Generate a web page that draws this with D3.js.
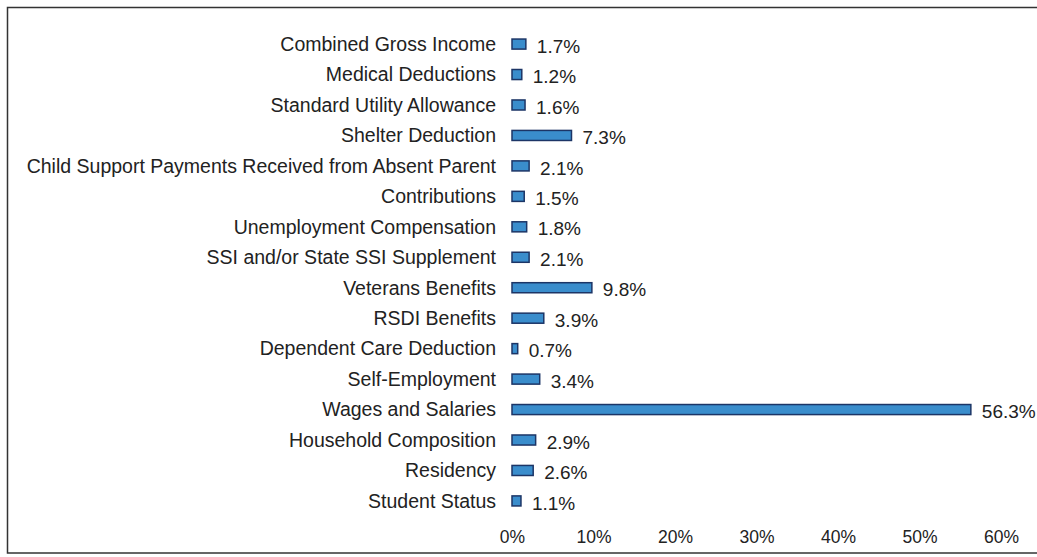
<!DOCTYPE html>
<html>
<head>
<meta charset="utf-8">
<script src="https://cdn.jsdelivr.net/npm/d3@7"></script>
<style>
  body { margin: 0; background: #fff; }
  text { font-family: "Liberation Sans", Arial, sans-serif; fill: #222; }
</style>
</head>
<body>
<div id="chart"></div>
<script>
// data, top to bottom as in the picture
var categories = [
  "Combined Gross Income", "Medical Deductions", "Standard Utility Allowance",
  "Shelter Deduction", "Child Support Payments Received from Absent Parent",
  "Contributions", "Unemployment Compensation", "SSI and/or State SSI Supplement",
  "Veterans Benefits", "RSDI Benefits", "Dependent Care Deduction",
  "Self-Employment", "Wages and Salaries", "Household Composition",
  "Residency", "Student Status"
];
var values = [1.7, 1.2, 1.6, 7.3, 2.1, 1.5, 1.8, 2.1, 9.8, 3.9, 0.7, 3.4, 56.3, 2.9, 2.6, 1.1];
var xTicks = [0, 10, 20, 30, 40, 50, 60];

var width = 1037, height = 557;
var svg = d3.select('#chart').append('svg').attr('width', width).attr('height', height);

// frame
svg.append('rect')
  .attr('x', 7.5).attr('y', 7.5)
  .attr('width', width + 10).attr('height', height - 4 - 7.5)
  .attr('fill', 'none').attr('stroke', '#333').attr('stroke-width', 1.5);

var x = d3.scaleLinear().domain([0, 60]).range([512, 1001]);
var y = d3.scaleBand().domain(categories).range([29, 516]).paddingInner(0.67).paddingOuter(0.33);

// category labels
svg.selectAll('text.cat')
  .data(categories)
  .enter().append('text')
  .attr('class', 'cat')
  .attr('x', 496)
  .attr('y', function(d) { return y(d) + y.bandwidth() / 2; })
  .attr('dy', '0.35em')
  .attr('text-anchor', 'end')
  .style('font-size', '19.5px')
  .text(function(d) { return d; });

// bars
svg.selectAll('rect.bar')
  .data(values)
  .enter().append('rect')
  .attr('class', 'bar')
  .attr('x', x(0))
  .attr('y', function(d, i) { return y(categories[i]); })
  .attr('width', function(d) { return x(d) - x(0); })
  .attr('height', y.bandwidth())
  .attr('fill', '#3a8dcc')
  .attr('stroke', '#1c3566')
  .attr('stroke-width', 1.5);

// value labels
svg.selectAll('text.val')
  .data(values)
  .enter().append('text')
  .attr('class', 'val')
  .attr('x', function(d) { return x(d) + 11; })
  .attr('y', function(d, i) { return y(categories[i]) + y.bandwidth() / 2 + 2; })
  .attr('dy', '0.35em')
  .style('font-size', '19px')
  .text(function(d) { return d.toFixed(1) + '%'; });

// x axis (labels only)
var axis = svg.append('g')
  .attr('transform', 'translate(0,531)')
  .call(d3.axisBottom(x).tickValues(xTicks).tickSize(0).tickPadding(0)
    .tickFormat(function(d) { return d + '%'; }));
axis.select('.domain').remove();
axis.selectAll('text')
  .style('font-size', '17.5px')
  .style('font-family', '"Liberation Sans", Arial, sans-serif')
  .attr('fill', '#222');
</script>
</body>
</html>
